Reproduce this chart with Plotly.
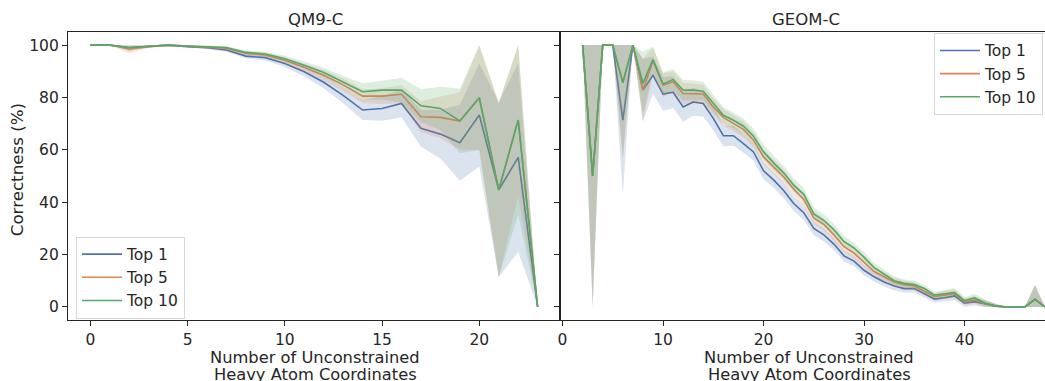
import plotly.graph_objects as go

# ---------------- data ----------------
qm9_x = list(range(24))
qm9_top1 = [100, 100, 99.0, 99.5, 100, 99.4, 99.0, 98.1, 95.8, 95.2, 93.0, 89.8, 85.8, 80.8,
            75.2, 75.8, 77.7, 68.2, 66.0, 62.7, 73.3, 44.7, 57.1, 0]
qm9_top5 = [100, 100, 98.5, 99.4, 100, 99.5, 99.2, 98.8, 96.8, 96.2, 94.2, 91.5, 88.5, 84.8,
            80.5, 80.5, 81.2, 72.6, 72.4, 71.0, 79.9, 44.7, 71.4, 0]
qm9_top10 = [100, 100, 99.1, 99.6, 100, 99.6, 99.3, 99.1, 97.2, 96.6, 94.8, 92.3, 89.5, 86.0,
             82.2, 82.8, 82.8, 76.8, 75.8, 71.0, 79.9, 44.7, 71.4, 0]
# confidence-band half widths
qm9_ci1 = [0, 0, 1.2, 0.4, 0.3, 0.4, 0.5, 0.6, 0.9, 1.1, 1.4, 1.8, 2.3, 3.0,
           3.8, 4.7, 5.3, 7.0, 9.3, 14.5, 19.7, 33.4, 36.0, 0]
qm9_ci5 = [0, 0, 1.7, 0.5, 0.3, 0.4, 0.5, 0.6, 0.8, 1.0, 1.2, 1.6, 2.0, 2.4,
           2.5, 3.0, 3.5, 6.0, 8.0, 11.0, 20.0, 33.0, 29.0, 0]
qm9_ci10 = [0, 0, 1.3, 0.4, 0.3, 0.4, 0.5, 0.5, 0.7, 0.9, 1.1, 1.4, 1.8, 2.2,
            3.2, 3.6, 4.7, 6.3, 8.3, 12.3, 20.0, 33.4, 36.0, 0]

geom_x = list(range(2, 49))
geom_top1 = [100, 50, 100, 100, 71.3, 100, 82.8, 88.5, 81.3, 82.0, 76.4, 78.3, 77.7, 72.0,
             65.4, 65.4, 62.4, 59.2, 52.0, 48.5, 44.5, 39.5, 36.0, 30.0, 27.5, 24.0, 19.5,
             17.5, 14.0, 11.5, 9.5, 8.0, 7.0, 7.0, 5.0, 3.0, 3.5, 4.2, 1.4, 2.0, 1.2, 0.3,
             0, 0, 0, 2.9, 0]
geom_top5 = [100, 50, 100, 100, 85.6, 100, 82.8, 94.0, 84.7, 86.0, 81.5, 81.5, 81.3, 76.4,
             72.4, 70.1, 67.8, 63.7, 57.3, 53.5, 49.7, 45.0, 41.0, 34.0, 31.5, 27.5, 23.0,
             20.5, 17.0, 13.5, 11.5, 9.5, 8.5, 8.0, 6.0, 4.0, 4.5, 5.0, 2.0, 2.7, 1.3, 0.4,
             0, 0, 0, 2.9, 0]
geom_top10 = [100, 50, 100, 100, 85.6, 100, 85.4, 94.5, 85.1, 86.9, 82.8, 82.8, 82.4, 77.7,
              73.2, 71.3, 69.0, 65.2, 59.2, 55.0, 51.2, 46.5, 43.0, 35.5, 33.0, 29.5, 25.0,
              22.5, 19.0, 15.0, 12.5, 10.0, 9.0, 8.5, 7.0, 4.5, 5.0, 5.5, 2.4, 3.5, 1.5, 0.5,
              0, 0, 0, 2.9, 0]
geom_ci1 = [0, 50, 0, 0, 28.6, 0, 12, 7, 6.5, 6, 5.7, 5.3, 5, 4.5, 4, 3.8, 3.5, 3.3, 3.2, 3,
            3, 2.8, 2.7, 2.6, 2.5, 2.3, 2.2, 2, 2, 1.8, 1.7, 1.6, 1.5, 1.5, 1.4, 1.3, 1.5,
            1.7, 1.3, 1.5, 1.3, 0.8, 0, 0, 0, 5.5, 0]
geom_ci5 = [0, 50, 0, 0, 28.9, 0, 12, 5, 4.5, 4, 4, 3.8, 3.5, 3.3, 3.2, 3, 3, 2.9, 2.8, 2.7,
            2.6, 2.5, 2.5, 2.4, 2.3, 2.2, 2.1, 2, 2, 1.8, 1.7, 1.6, 1.5, 1.5, 1.4, 1.3, 1.5,
            1.7, 1.3, 1.5, 1.3, 0.8, 0, 0, 0, 5.5, 0]
geom_ci10 = geom_ci5

series_names = ["Top 1", "Top 5", "Top 10"]
colors = ["#4C72B0", "#DD8452", "#55A868"]
band_colors = ["rgba(76,114,176,0.2)", "rgba(221,132,82,0.2)", "rgba(85,168,104,0.2)"]

panel_titles = ["QM9-C", "GEOM-C"]
x_title_lines = ["Number of Unconstrained", "Heavy Atom Coordinates"]
y_title = "Correctness (%)"

FONT = "DejaVu Sans"
TXT = "#262626"

fig = go.Figure()


def add_panel(xs, ys_list, ci_list, xa, ya, legend):
    for name, ys, ci, col, bcol in zip(series_names, ys_list, ci_list, colors, band_colors):
        fig.add_trace(go.Scatter(x=xs, y=ys, mode="lines", name=name,
                                 line=dict(color=col, width=1.6),
                                 xaxis=xa, yaxis=ya, legend=legend, showlegend=True))
        upper = [min(100.0, v + c) for v, c in zip(ys, ci)]
        lower = [max(0.0, v - c) for v, c in zip(ys, ci)]
        fig.add_trace(go.Scatter(x=list(xs) + list(xs)[::-1], y=upper + lower[::-1],
                                 fill="toself", fillcolor=bcol, mode="lines",
                                 line=dict(width=0, color=bcol), hoverinfo="skip",
                                 xaxis=xa, yaxis=ya, showlegend=False))


add_panel(qm9_x, [qm9_top1, qm9_top5, qm9_top10], [qm9_ci1, qm9_ci5, qm9_ci10], "x", "y", "legend")
add_panel(geom_x, [geom_top1, geom_top5, geom_top10], [geom_ci1, geom_ci5, geom_ci10], "x2", "y2", "legend2")

W, H = 1045, 381
L0, MID = 68, 560
axis_common = dict(showline=True, linecolor=TXT, linewidth=1.1, ticks="outside", ticklen=5,
                   tickwidth=1.1, tickcolor=TXT, showgrid=False, zeroline=False,
                   automargin=False,
                   tickfont=dict(family=FONT, size=15.5, color=TXT))

legend_style = dict(bgcolor="rgba(255,255,255,0.85)", bordercolor="#d6d6d6", borderwidth=1,
                    itemwidth=40, tracegroupgap=0,
                    font=dict(family=FONT, size=15.5, color=TXT))

fig.update_layout(
    width=W, height=H,
    margin=dict(l=0, r=0, t=32, b=61, autoexpand=False),
    paper_bgcolor="white", plot_bgcolor="white",
    font=dict(family=FONT, color=TXT),
    xaxis=dict(domain=[L0 / W, MID / W], range=[-1.15, 24.15], tickvals=[0, 5, 10, 15, 20],
               mirror=True, anchor="y", **axis_common),
    yaxis=dict(domain=[0, 1], range=[-5, 105], tickvals=[0, 20, 40, 60, 80, 100],
               mirror=True, anchor="x", **axis_common),
    xaxis2=dict(domain=[MID / W, 1.0], range=[-0.25, 48.0], tickvals=[0, 10, 20, 30, 40],
                mirror=True, anchor="y2", **axis_common),
    yaxis2=dict(domain=[0, 1], range=[-5, 105], tickvals=[0, 20, 40, 60, 80, 100],
                showticklabels=False, anchor="x2", **axis_common),
    legend=dict(x=76 / W, y=0.005, xanchor="left", yanchor="bottom", **legend_style),
    legend2=dict(x=0.998, y=0.997, xanchor="right", yanchor="top", **legend_style),
)

ph = H - 32 - 61
def py(pix):
    return (H - 61 - pix) / ph

annos = []
for title, cx in zip(panel_titles, [315, 806]):
    annos.append(dict(text=title, x=cx / W, y=py(20), xref="paper", yref="paper",
                      xanchor="center", yanchor="middle", showarrow=False,
                      font=dict(family=FONT, size=16.5, color=TXT)))
for cx in [315, 809]:
    for line, ypx in zip(x_title_lines, [357, 374.5]):
        annos.append(dict(text=line, x=cx / W, y=py(ypx), xref="paper", yref="paper",
                          xanchor="center", yanchor="middle", showarrow=False,
                          font=dict(family=FONT, size=16.3, color=TXT)))
annos.append(dict(text=y_title, x=17 / W, y=0.52, xref="paper", yref="paper",
                  xanchor="center", yanchor="middle", textangle=-90, showarrow=False,
                  font=dict(family=FONT, size=16.7, color=TXT)))
fig.update_layout(annotations=annos)

fig.write_html("out.html", config={"displayModeBar": False},
               post_script="document.body.style.margin='0';document.body.style.overflow='hidden';")
